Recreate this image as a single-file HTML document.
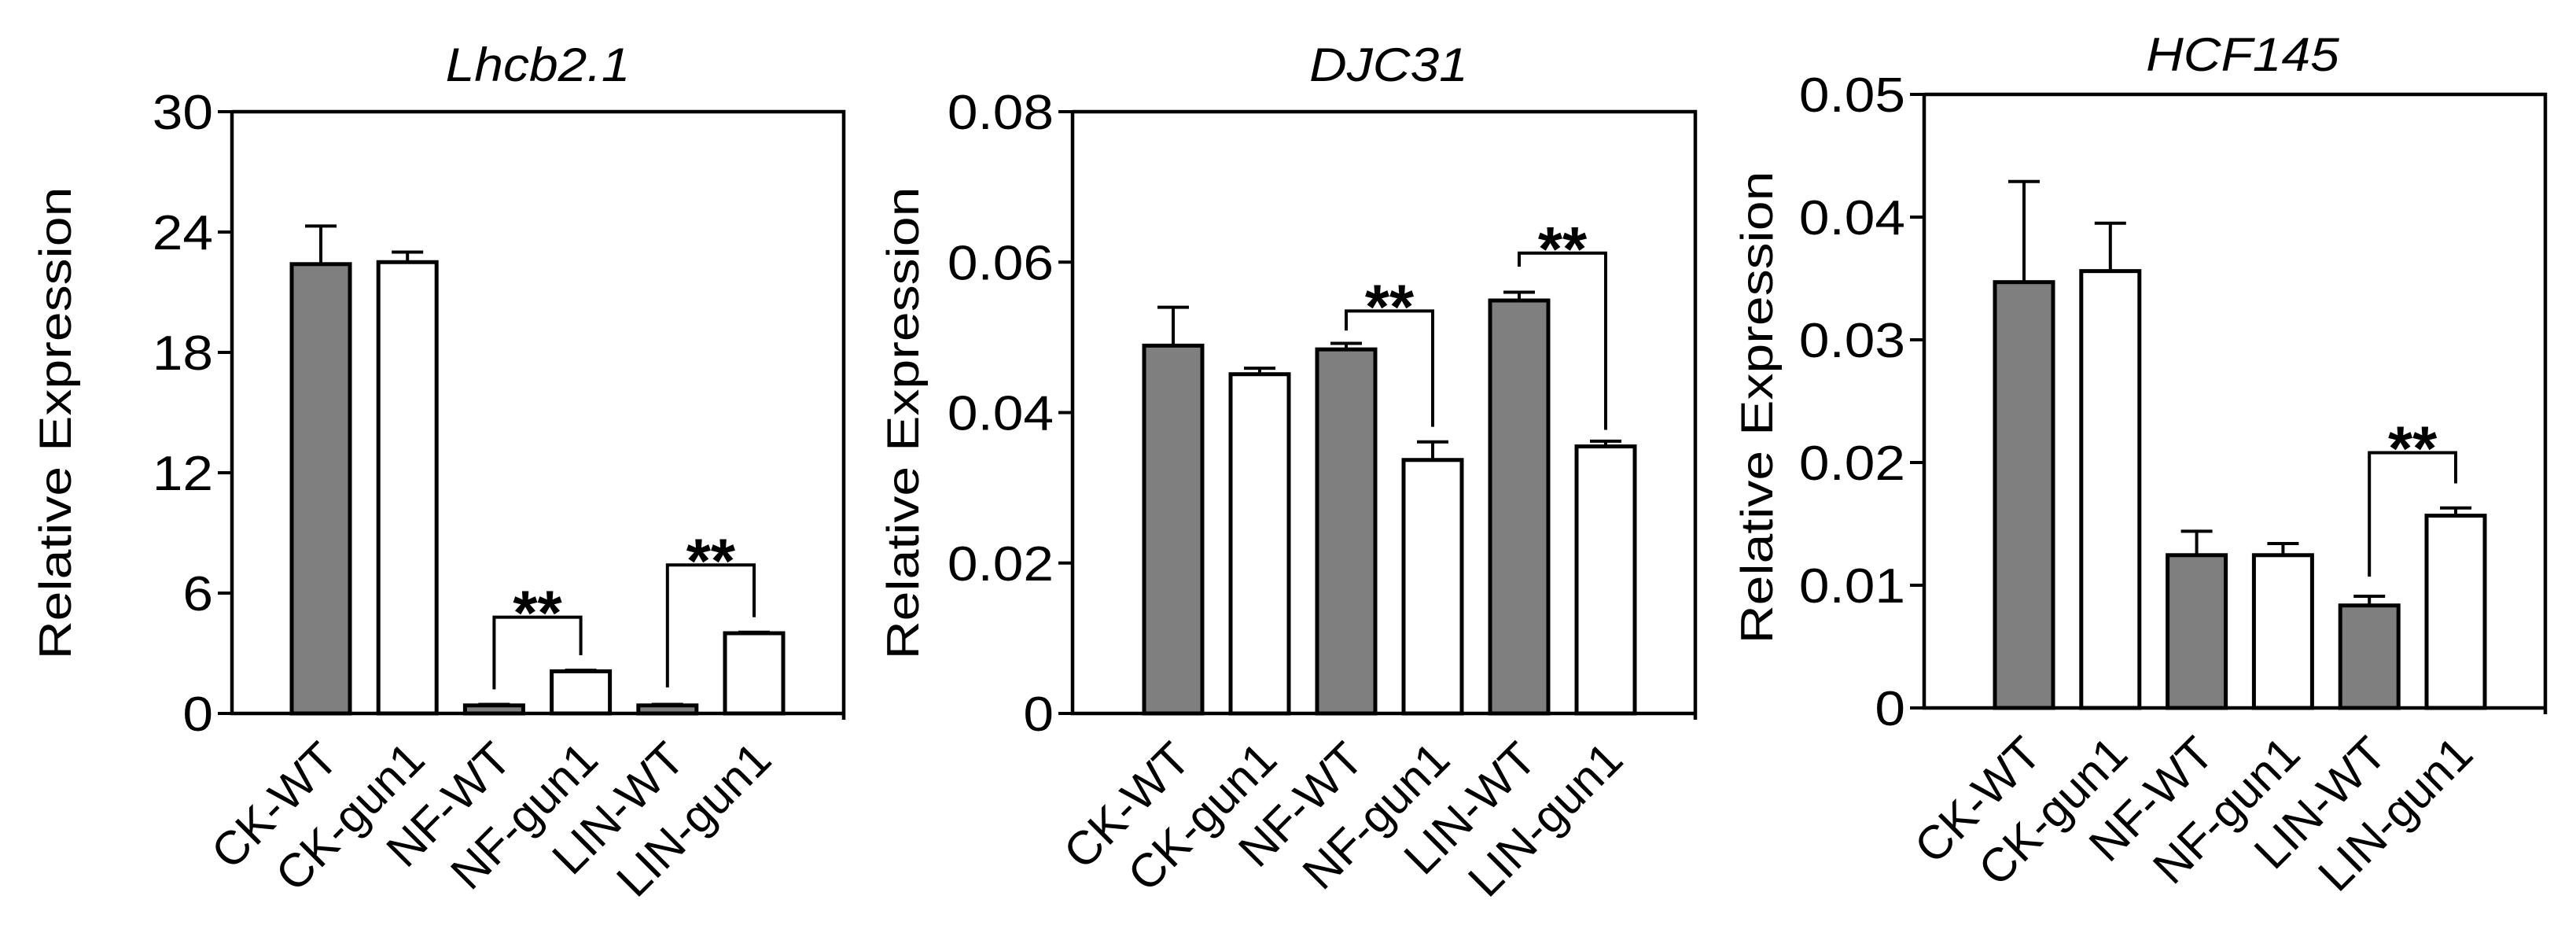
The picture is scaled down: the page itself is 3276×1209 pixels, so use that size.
<!DOCTYPE html>
<html><head><meta charset="utf-8">
<style>
html,body{margin:0;padding:0;background:#fff;}
svg{display:block;}
text{font-family:"Liberation Sans",Arial,sans-serif;fill:#000;}
</style></head>
<body>
<svg id="chart" xmlns="http://www.w3.org/2000/svg" width="3276" height="1209" viewBox="0 0 3276 1209"></svg>
<script>
const categories = ["CK-WT","CK-gun1","NF-WT","NF-gun1","LIN-WT","LIN-gun1"];
const titles = ["Lhcb2.1","DJC31","HCF145"];
const lhcbValues = [22.4, 22.5, 0.4, 2.1, 0.4, 4.0];
const lhcbErrors = [24.3, 23.0, 0.45, 2.15, 0.45, 4.05];
const djcValues = [0.0489, 0.0451, 0.0484, 0.0337, 0.0549, 0.0355];
const djcErrors = [0.054, 0.0459, 0.0492, 0.0361, 0.0560, 0.0362];
const hcfValues = [0.0347, 0.0356, 0.01245, 0.01245, 0.00835, 0.01567];
const hcfErrors = [0.0429, 0.0395, 0.0144, 0.0134, 0.0091, 0.0163];
const lhcbTicks = ["0","6","12","18","24","30"];
const djcTicks = ["0","0.02","0.04","0.06","0.08"];
const hcfTicks = ["0","0.01","0.02","0.03","0.04","0.05"];
const lhcbTickVals = [0,6,12,18,24,30];
const djcTickVals = [0,0.02,0.04,0.06,0.08];
const hcfTickVals = [0,0.01,0.02,0.03,0.04,0.05];
const lhcbBrackets = [[2,3,4.8,1.2,2.9],[4,5,7.4,1.3,4.8]]; // [i, j, topVal, leftEndVal, rightEndVal]
const djcBrackets = [[2,3,0.0535,0.0509,0.0381],[4,5,0.0612,0.0594,0.0377]];
const hcfBrackets = [[4,5,0.0208,0.0107,0.0183]];

const NS="http://www.w3.org/2000/svg";
const svg=document.getElementById('chart');
function mk(tag,attrs,parent){const e=document.createElementNS(NS,tag);for(const k in attrs)e.setAttribute(k,attrs[k]);(parent||svg).appendChild(e);return e;}

const panels=[
 {ax:295,right:1073,top:142,bottom:907,max:30,c0:408,step:110.2,vals:lhcbValues,errs:lhcbErrors,ticks:lhcbTicks,tv:lhcbTickVals,br:lhcbBrackets,tx:684,ty:103,ytx:90,yty:538},
 {ax:1364,right:2156,top:142,bottom:907,max:0.08,c0:1492,step:110,vals:djcValues,errs:djcErrors,ticks:djcTicks,tv:djcTickVals,br:djcBrackets,tx:1766,ty:103,ytx:1168,yty:538},
 {ax:2447,right:3237,top:120,bottom:900,max:0.05,c0:2574,step:109.8,vals:hcfValues,errs:hcfErrors,ticks:hcfTicks,tv:hcfTickVals,br:hcfBrackets,tx:2852,ty:90,ytx:2254,yty:518}
];

panels.forEach((p,pi)=>{
  const g=mk('g',{});
  
  
  const y=v=>p.bottom-(v/p.max)*(p.bottom-p.top);
  const xc=i=>p.c0+i*p.step;
  const bw=74;
  const t=mk('text',{x:0,y:0,'font-size':60,'font-style':'italic','text-anchor':'middle',transform:`translate(${p.tx},${p.ty}) scale(1.1,1)`},g);
  t.textContent=titles[pi];
  
  
  const yt=mk('text',{x:0,y:0,'font-size':68,'text-anchor':'middle',transform:`translate(${p.ytx},${p.yty}) scale(0.85,1) rotate(-90)`},g);
  yt.textContent="Relative Expression";
  
  
  p.vals.forEach((v,i)=>{
    const cx=xc(i);
    const eb=mk('path',{d:`M${cx},${y(v)} V${y(p.errs[i])} M${cx-20},${y(p.errs[i])} H${cx+20}`,stroke:'#000','stroke-width':4,fill:'none'},g);
    
    
    const r=mk('rect',{x:cx-bw/2,y:y(v),width:bw,height:p.bottom-y(v),fill:i%2===0?'#7f7f7f':'#fff',stroke:'#000','stroke-width':5},g);
    
    
    const lb=mk('text',{x:0,y:0,'font-size':60,'text-anchor':'end',transform:`translate(${cx+25},${p.bottom+62}) rotate(-45)`},g);
    lb.textContent=categories[i];
    
    
  });
  const box=mk('path',{d:`M${p.ax},${p.top} H${p.right} V${p.bottom+8} M${p.ax},${p.top} V${p.bottom} H${p.right+2}`,stroke:'#000','stroke-width':4.5,fill:'none'},g);
  
  
  p.tv.forEach((tv,k)=>{
    const ty=y(tv);
    const tk=mk('line',{x1:p.ax-18,x2:p.ax,y1:ty,y2:ty,stroke:'#000','stroke-width':4},g);
    
    
    const tl=mk('text',{x:0,y:0,'font-size':62,'text-anchor':'end',transform:`translate(${p.ax-24},${ty+22}) scale(1.12,1)`},g);
    tl.textContent=p.ticks[k];
    
    
  });
  p.br.forEach(b=>{
    const x1=xc(b[0]),x2=xc(b[1]);
    const bp=mk('path',{d:`M${x1},${y(b[3])} V${y(b[2])} H${x2} V${y(b[4])}`,stroke:'#000','stroke-width':4,fill:'none'},g);
    
    
    const st=mk('text',{x:(x1+x2)/2,y:y(b[2])+22,'font-size':80,'font-weight':'bold','text-anchor':'middle'},g);
    st.textContent="**";
    
    
  });
});
</script>
</body></html>
